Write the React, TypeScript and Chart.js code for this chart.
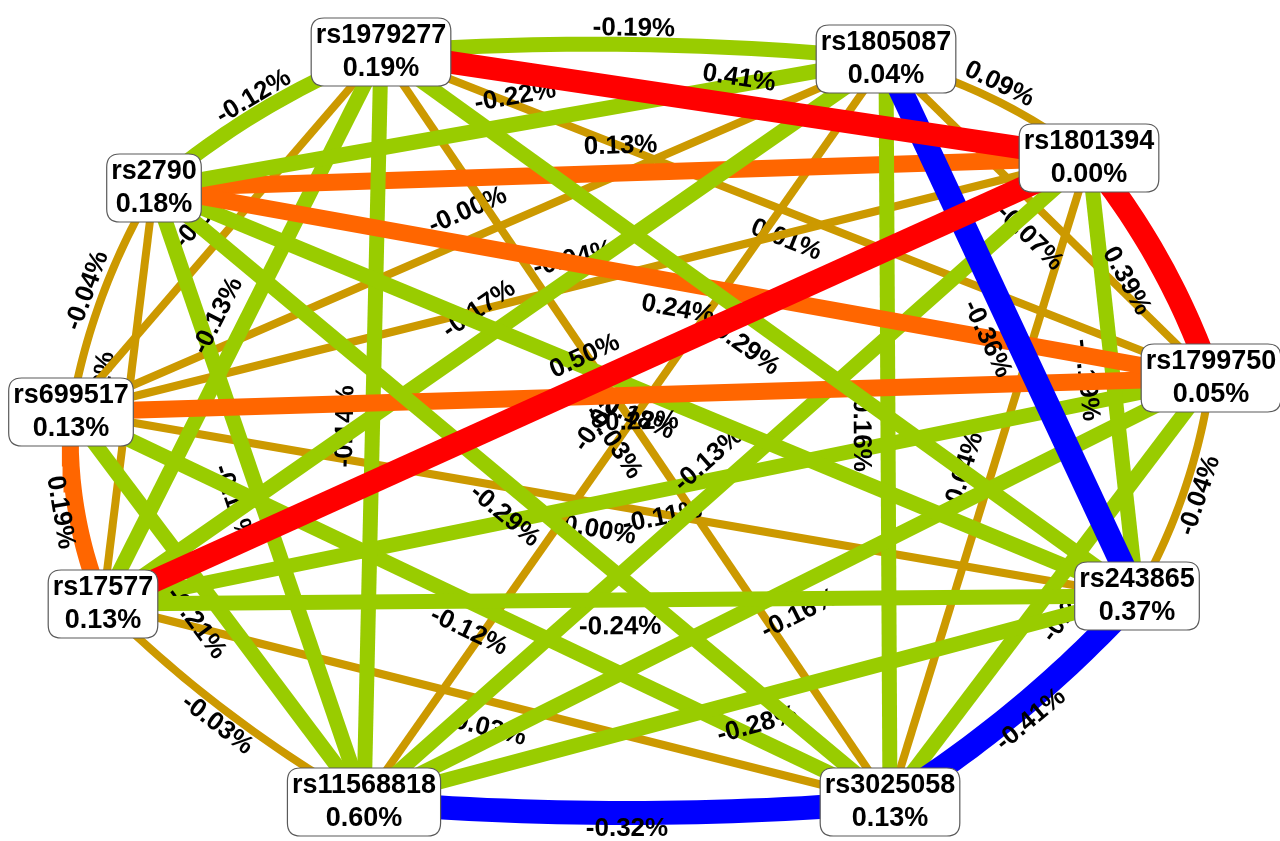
import React, { useEffect, useRef } from 'react';
import { Chart, registerables } from 'chart.js';

Chart.register(...registerables);

// Nodes (ring order) and their main-effect entropy percentages
const nodeNames = ['rs1979277', 'rs1805087', 'rs1801394', 'rs1799750', 'rs243865', 'rs3025058', 'rs11568818', 'rs17577', 'rs699517', 'rs2790'];
const nodeValues = [0.19, 0.04, 0.0, 0.05, 0.37, 0.13, 0.6, 0.13, 0.13, 0.18];
// Layout coordinates of the nodes (graph space)
const nodeX = [381, 886, 1089, 1211, 1137, 890, 364, 103, 71, 154];
const nodeY = [52, 59, 158, 378, 596, 802, 802, 604, 412, 188];

// Interaction edges: from node, to node, interaction entropy (%)
const edgeFrom = [0, 0, 3, 4, 5, 6, 7, 8, 9, 1, 3, 4, 5, 6, 7, 8, 9, 3, 4, 5, 6, 7, 8, 9, 3, 3, 3, 3, 3, 3, 4, 4, 4, 4, 4, 5, 5, 5, 5, 6, 6, 6, 7, 7, 8];
const edgeTo = [1, 2, 0, 0, 0, 0, 0, 0, 0, 2, 1, 1, 1, 1, 1, 1, 1, 2, 2, 2, 2, 2, 2, 2, 4, 5, 6, 7, 8, 9, 5, 6, 7, 8, 9, 6, 7, 8, 9, 7, 8, 9, 8, 9, 9];
const edgeValues = [
  -0.19, 0.41, 0.01, -0.29, -0.03, -0.14, -0.13, -0.07, -0.12,
  0.09, -0.07, -0.36, -0.16, -0.02, -0.17, -0.001, -0.22,
  0.39, -0.19, -0.04, -0.13, 0.5, -0.04, 0.13,
  -0.04, -0.21, -0.16, -0.11, 0.22, 0.24,
  -0.41, -0.28, -0.24, 0.001, -0.18,
  -0.32, 0.03, -0.12, -0.29,
  -0.03, -0.21, -0.11,
  0.19, -0.02,
  -0.04,
];

function edgeCategory(v: number): number {
  if (v > -0.1 && v < 0.1) return 0; // independence (gold)
  if (v <= -0.1 && v > -0.3) return 1; // redundancy (green)
  if (v >= 0.1 && v < 0.3) return 2; // moderate synergy (orange)
  if (v >= 0.3) return 3; // strong synergy (red)
  return 4; // strong redundancy (blue)
}
const categoryColors = ['#cc9900', '#99cc00', '#ff6600', '#ff0000', '#0000ff'];
const categoryWidths = [8, 15, 17, 23, 24];

const fmt = (v: number) => v.toFixed(2) + '%';
const FONT = '"Liberation Sans", Arial, sans-serif';

export default function App() {
  const ref = useRef<HTMLCanvasElement>(null);

  useEffect(() => {
    document.body.style.margin = '0';
    document.body.style.overflow = 'hidden';
    const canvas = ref.current;
    if (!canvas) return;

    const n = nodeX.length;
    const cx = nodeX.reduce((a, b) => a + b, 0) / n;
    const cy = nodeY.reduce((a, b) => a + b, 0) / n;

    // weaker interactions first, stronger ones on top
    const order = edgeFrom
      .map((_, k) => k)
      .sort((a, b) => Math.abs(edgeValues[a]) - Math.abs(edgeValues[b]) || a - b);

    const edgeIndexOfDataset: number[] = [];
    const datasets = order.map((k, pos) => {
      const f = edgeFrom[k];
      const t = edgeTo[k];
      const x1 = nodeX[f], y1 = nodeY[f], x2 = nodeX[t], y2 = nodeY[t];
      const diff = Math.abs(f - t);
      const ring = diff === 1 || diff === n - 1;
      let pts: { x: number; y: number }[];
      if (ring) {
        const mx = (x1 + x2) / 2, my = (y1 + y2) / 2;
        const dx = x2 - x1, dy = y2 - y1;
        const len = Math.hypot(dx, dy);
        let nx = -dy / len, ny = dx / len;
        if (nx * (mx - cx) + ny * (my - cy) < 0) { nx = -nx; ny = -ny; }
        const bulge = 11;
        const qx = mx + nx * bulge * 2, qy = my + ny * bulge * 2;
        pts = [];
        const steps = 30;
        for (let i = 0; i <= steps; i++) {
          const s = i / steps;
          const a = (1 - s) * (1 - s), b = 2 * s * (1 - s), c = s * s;
          pts.push({ x: a * x1 + b * qx + c * x2, y: a * y1 + b * qy + c * y2 });
        }
      } else {
        pts = [{ x: x1, y: y1 }, { x: x2, y: y2 }];
      }
      edgeIndexOfDataset.push(k);
      const cat = edgeCategory(edgeValues[k]);
      return {
        data: pts,
        showLine: true,
        borderColor: categoryColors[cat],
        backgroundColor: categoryColors[cat],
        borderWidth: categoryWidths[cat],
        pointRadius: 0,
        pointHoverRadius: 0,
        tension: 0,
        clip: false as any,
        borderCapStyle: 'butt' as const,
        order: -pos,
      };
    });

    const labelPlugin = {
      id: 'edgeLabels',
      afterDatasetDraw(chart: any, args: any) {
        const k = edgeIndexOfDataset[args.index];
        if (k === undefined) return;
        const ctx = chart.ctx as CanvasRenderingContext2D;
        const xs = chart.scales.x, ys = chart.scales.y;
        const f = edgeFrom[k];
        const t = edgeTo[k];
        const x1 = xs.getPixelForValue(nodeX[f]), y1 = ys.getPixelForValue(nodeY[f]);
        const x2 = xs.getPixelForValue(nodeX[t]), y2 = ys.getPixelForValue(nodeY[t]);
        const dx = x2 - x1, dy = y2 - y1;
        const len = Math.hypot(dx, dy);
        const off = 27;
        const lx = (x1 + x2) / 2 + (dy / len) * off;
        const ly = (y1 + y2) / 2 - (dx / len) * off;
        let a = Math.atan2(dy, dx);
        if (a > Math.PI / 2) a -= Math.PI;
        else if (a <= -Math.PI / 2) a += Math.PI;
        ctx.save();
        ctx.font = 'bold 26px ' + FONT;
        ctx.fillStyle = '#000000';
        ctx.textAlign = 'center';
        ctx.textBaseline = 'middle';
        ctx.translate(lx, ly);
        ctx.rotate(a);
        ctx.fillText(fmt(edgeValues[k]), 0, 0);
        ctx.restore();
      },
    };

    const nodePlugin = {
      id: 'nodes',
      afterDatasetsDraw(chart: any) {
        const ctx = chart.ctx as CanvasRenderingContext2D;
        const xs = chart.scales.x, ys = chart.scales.y;
        ctx.save();
        ctx.font = 'bold 27px ' + FONT;
        ctx.textAlign = 'center';
        ctx.textBaseline = 'middle';
        nodeNames.forEach((name, i) => {
          const px = xs.getPixelForValue(nodeX[i]);
          const py = ys.getPixelForValue(nodeY[i]);
          const l2 = fmt(nodeValues[i]);
          const w = Math.max(ctx.measureText(name).width, ctx.measureText(l2).width) + 9;
          const h = 68;
          const r = 13;
          const x0 = px - w / 2, y0 = py - h / 2;
          ctx.beginPath();
          ctx.moveTo(x0 + r, y0);
          ctx.lineTo(x0 + w - r, y0);
          ctx.quadraticCurveTo(x0 + w, y0, x0 + w, y0 + r);
          ctx.lineTo(x0 + w, y0 + h - r);
          ctx.quadraticCurveTo(x0 + w, y0 + h, x0 + w - r, y0 + h);
          ctx.lineTo(x0 + r, y0 + h);
          ctx.quadraticCurveTo(x0, y0 + h, x0, y0 + h - r);
          ctx.lineTo(x0, y0 + r);
          ctx.quadraticCurveTo(x0, y0, x0 + r, y0);
          ctx.closePath();
          ctx.fillStyle = '#ffffff';
          ctx.fill();
          ctx.lineWidth = 1.2;
          ctx.strokeStyle = '#5a5a5a';
          ctx.stroke();
          ctx.fillStyle = '#000000';
          ctx.fillText(name, px, py - 16);
          ctx.fillText(l2, px, py + 17);
        });
        ctx.restore();
      },
    };

    const chart = new Chart(canvas, {
      type: 'scatter',
      data: { datasets: datasets as any },
      options: {
        animation: false,
        responsive: false,
        maintainAspectRatio: false,
        events: [],
        layout: { padding: 0 },
        plugins: {
          legend: { display: false },
          tooltip: { enabled: false },
        },
        scales: {
          x: { type: 'linear', min: 0, max: 1280, display: false },
          y: { type: 'linear', min: 0, max: 841, reverse: true, display: false },
        },
      },
      plugins: [labelPlugin, nodePlugin],
    });

    return () => {
      chart.destroy();
    };
  }, []);

  return (
    <div style={{ width: 1280, height: 841, background: '#ffffff' }}>
      <canvas ref={ref} width={1280} height={841} style={{ display: 'block', width: 1280, height: 841 }} />
    </div>
  );
}
